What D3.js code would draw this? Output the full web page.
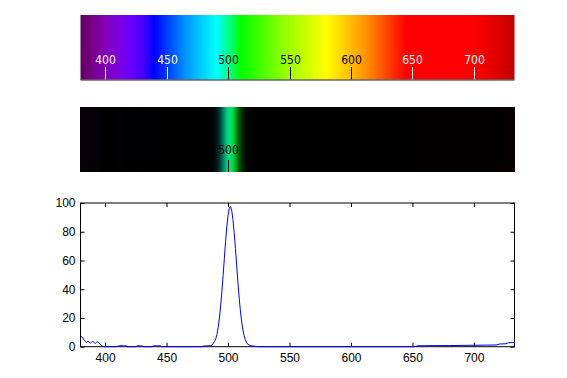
<!DOCTYPE html>
<html>
<head>
<meta charset="utf-8">
<script src="https://cdn.jsdelivr.net/npm/d3@7"></script>
<style>
  body { margin: 0; background: #fff; }
  svg { display: block; }
</style>
</head>
<body>
<div id="container"></div>
<script>
/* DATA */
const wavelengths = [380, 381, 382, 383, 384, 385, 386, 387, 388, 389, 390, 391, 392, 393, 394, 395, 396, 397, 398, 399,
  405, 409, 411, 413, 414, 415, 417, 418, 425, 426, 428, 429, 430, 431, 438, 439, 442, 445, 446,
  478, 480, 482, 484, 486, 487, 488, 489, 490, 491, 492, 493, 494, 495, 496, 497, 498, 499, 500,
  501, 502, 503, 504, 505, 506, 507, 508, 509, 510, 511, 512, 513, 514, 515, 516, 518, 520, 522, 524,
  652, 654, 660, 680, 700, 718, 721, 726, 728, 733]
const intensity = [7.7, 7.0, 6.0, 4.6, 3.6, 2.8, 3.9, 3.1, 2.4, 3.2, 3.7, 2.9, 2.3, 3.0, 3.4, 2.5, 1.8, 1.0, 0.3, 0,
  0, 0, 0.5, 0.6, 1.0, 0.5, 0.6, 0, 0, 0.5, 0.8, 0.4, 0.7, 0, 0, 0.5, 0.6, 0.6, 0,
  0, 0.4, 0.5, 0.6, 0.8, 1.2, 2.2, 3.6, 5.5, 8.5, 13.5, 20, 28.5, 38.5, 49.5, 61.5, 73, 83.5, 91.5,
  96.2, 97.5, 94.7, 88.5, 79.4, 68.5, 56.8, 45.2, 34.6, 25.4, 17.9, 12.2, 7.9, 5.0, 3.0, 1.7, 0.8, 0.5, 0.3, 0,
  0, 0.6, 0.7, 0.8, 1.0, 1.2, 1.9, 2.0, 2.8, 2.9]

const xTicks = [400, 450, 500, 550, 600, 650, 700]
const yTicks = [0, 20, 40, 60, 80, 100]
const bandTicks = [500]

// spectrum colour stops (nm -> colour)
const stopNm = [380, 390, 400, 410, 420, 430, 440, 465, 490, 500, 510, 545, 580, 612, 645, 700, 720, 733]
const stopColors = ["#610061", "#79008c", "#8300b5", "#7e00db", "#6a00ff", "#4a00ff", "#0000ff", "#0092ff",
  "#00ffff", "#00ff92", "#00ff00", "#92ff00", "#ffff00", "#ff9200", "#ff0000", "#ff0000", "#db0000", "#c20000"]

/* CONSTANTS */
const width = 567
const height = 378
const xMin = 380, xMax = 733
const specTop = 15, specBottom = 80
const bandTop = 107, bandBottom = 172
const plot = { top: 203, bottom: 346.7, left: 80.5, right: 514.5 }

const svg = d3.select("#container")
  .append("svg")
  .attr("width", width)
  .attr("height", height)

svg.append("rect").attr("width", width).attr("height", height).attr("fill", "#fff")

/* SCALES */
const xScale = d3.scaleLinear()
  .domain([xMin, xMax])
  .range([plot.left, plot.right])

const yScale = d3.scaleLinear()
  .domain([0, 100])
  .range([plot.bottom, plot.top])

const colorAt = d3.scaleLinear()
  .domain(stopNm)
  .range(stopColors)
  .interpolate(d3.interpolateRgb)

const intensityAt = d3.scaleLinear()
  .domain(wavelengths)
  .range(intensity)
  .clamp(true)

/* SPECTRUM BAR */
const grad = svg.append("defs").append("linearGradient")
  .attr("id", "spec")
  .attr("x1", 0).attr("x2", 1).attr("y1", 0).attr("y2", 0)

grad.selectAll("stop")
  .data(stopNm)
  .join("stop")
  .attr("offset", d => (d - xMin) / (xMax - xMin))
  .attr("stop-color", (d, i) => stopColors[i])

svg.append("rect")
  .attr("x", xScale(xMin))
  .attr("y", specTop)
  .attr("width", xScale(xMax) - xScale(xMin))
  .attr("height", specBottom - specTop)
  .attr("fill", "url(#spec)")

const labelColor = d => (d > 480 && d < 620) ? "#000" : "#fff"

const specTicks = svg.append("g")
  .selectAll("g")
  .data(xTicks)
  .join("g")
  .attr("transform", d => `translate(${Math.round(xScale(d)) + 0.5},0)`)

specTicks.append("line")
  .attr("y1", specBottom - 13).attr("y2", specBottom)
  .attr("stroke", labelColor)

specTicks.append("text")
  .attr("y", specBottom - 16)
  .attr("text-anchor", "middle")
  .attr("font-family", "'Liberation Sans Narrow', 'DejaVu Sans Condensed', sans-serif")
  .attr("font-size", 12)
  .attr("fill", labelColor)
  .text(d => d)

svg.append("line")
  .attr("x1", xScale(xMin)).attr("x2", xScale(xMax))
  .attr("y1", specBottom).attr("y2", specBottom)
  .attr("stroke", "#666")
  .attr("stroke-width", 1.5)

/* EMISSION BAND */
svg.append("rect")
  .attr("x", xScale(xMin))
  .attr("y", bandTop)
  .attr("width", xScale(xMax) - xScale(xMin))
  .attr("height", bandBottom - bandTop)
  .attr("fill", "#000")

const cols = d3.range(Math.floor(xScale(xMin)), Math.ceil(xScale(xMax)))
svg.append("g")
  .selectAll("rect")
  .data(cols)
  .join("rect")
  .attr("x", d => d)
  .attr("y", bandTop)
  .attr("width", 1)
  .attr("height", bandBottom - bandTop)
  .attr("fill", d => {
    const nm = xScale.invert(d + 0.5)
    const c = d3.rgb(colorAt(nm))
    const k = Math.pow(Math.max(0, intensityAt(nm)) / 100, 0.9)
    return d3.rgb(c.r * k, c.g * k * 0.92, c.b * k * 0.92)
  })

const bandTickG = svg.append("g")
  .selectAll("g")
  .data(bandTicks)
  .join("g")
  .attr("transform", d => `translate(${Math.round(xScale(d)) + 0.5},0)`)

bandTickG.append("line")
  .attr("y1", bandBottom - 12).attr("y2", bandBottom)
  .attr("stroke", "#000")

bandTickG.append("text")
  .attr("y", bandBottom - 18)
  .attr("text-anchor", "middle")
  .attr("font-family", "'Liberation Sans Narrow', 'DejaVu Sans Condensed', sans-serif")
  .attr("font-size", 12)
  .attr("fill", "#000")
  .text(d => d)

/* LINE PLOT */
const font = "'Liberation Sans', Arial, sans-serif"

const xAxis = d3.axisBottom(xScale).tickValues(xTicks).tickSize(-4).tickPadding(7)
const gx = svg.append("g")
  .attr("transform", `translate(0,${plot.bottom})`)
  .call(xAxis)

const yAxis = d3.axisLeft(yScale).tickValues(yTicks).tickSize(-4).tickPadding(5)
const gy = svg.append("g")
  .attr("transform", `translate(${plot.left},0)`)
  .call(yAxis)

const gxTop = svg.append("g")
  .attr("transform", `translate(0,${plot.top})`)
  .call(d3.axisTop(xScale).tickValues(xTicks).tickSize(-4).tickFormat(""))

const gyRight = svg.append("g")
  .attr("transform", `translate(${plot.right},0)`)
  .call(d3.axisRight(yScale).tickValues(yTicks).tickSize(-4).tickFormat(""))

for (const g of [gx, gy, gxTop, gyRight]) {
  g.select(".domain").remove()
  g.selectAll("text").attr("font-family", font).attr("font-size", 12).attr("fill", "#000")
  g.selectAll("line").attr("stroke", "#000")
}

svg.append("rect")
  .attr("x", plot.left).attr("y", plot.top)
  .attr("width", plot.right - plot.left)
  .attr("height", plot.bottom - plot.top)
  .attr("fill", "none")
  .attr("stroke", "#000")

const line = d3.line()
  .x((d, i) => xScale(wavelengths[i]))
  .y(d => yScale(d))

svg.append("path")
  .datum(intensity)
  .attr("d", line)
  .attr("fill", "none")
  .attr("stroke", "#0000ff")
  .attr("stroke-width", 1)
</script>
</body>
</html>
